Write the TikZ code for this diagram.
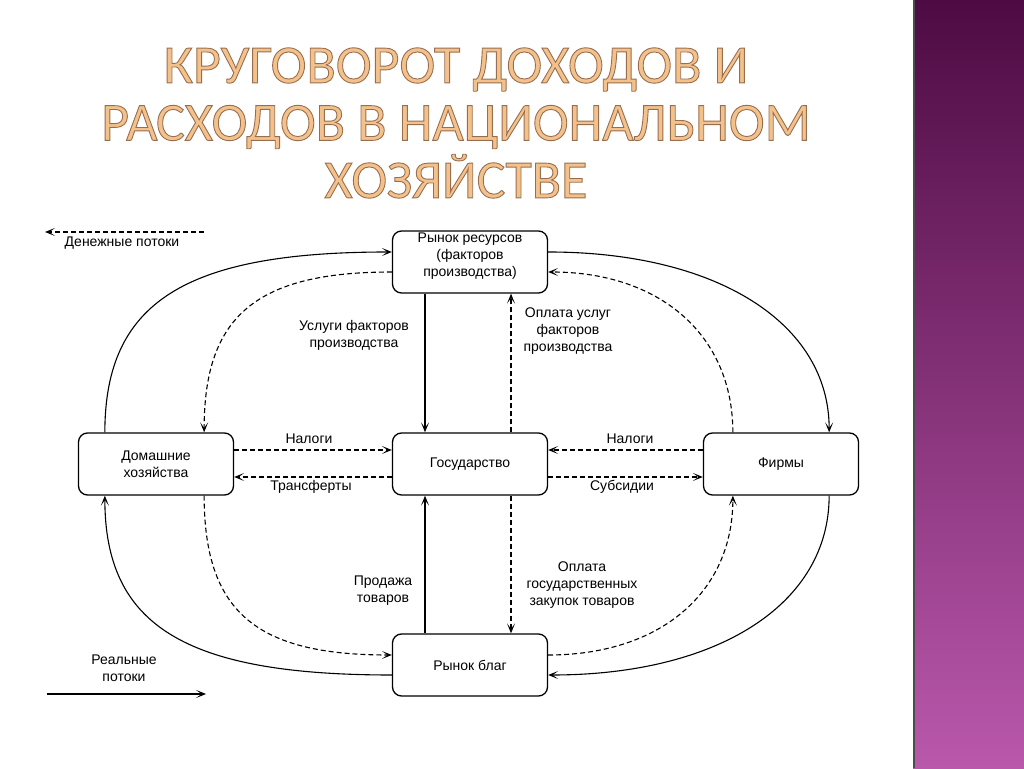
\documentclass[tikz,border=0pt]{standalone}
\usepackage{fontspec}
\setmainfont{Liberation Sans}
\newfontfamily\titlefont{Carlito}
\usetikzlibrary{arrows.meta}

\definecolor{titre}{HTML}{F3C28C}
\definecolor{violethaut}{HTML}{4E0B43}
\definecolor{violetbas}{HTML}{BA58AC}

\begin{document}
\begin{tikzpicture}[x=1pt,y=1pt,
    >={Stealth[length=10pt,width=8pt,inset=5.5pt]},
    bloc/.style={draw,line width=1.3pt,rounded corners=9pt,minimum width=155pt,minimum height=62pt,align=center,font=\fontsize{14}{17}\selectfont},
    etiq/.style={align=center,font=\fontsize{14}{17}\selectfont},
    reel/.style={->,line width=1.1pt},
    monnaie/.style={->,line width=1.1pt,dash pattern=on 5pt off 3pt}]
    \useasboundingbox (0,0) rectangle (1024,768);

    % Bande violette
    \shade[top color=violethaut,bottom color=violetbas] (913,0) rectangle (1024,768);
    \draw[line width=1.6pt,black!70] (913.8,0) -- (913.8,768);

    % Titre
    \node[align=center,font=\titlefont\fontsize{54}{57.5}\selectfont,text=titre] (titre) at (456,645)
        {\special{pdf:literal direct 2 Tr 0.9 w 0.6 0.43 0.31 RG}КРУГОВОРОТ ДОХОДОВ И\\РАСХОДОВ В НАЦИОНАЛЬНОМ\\ХОЗЯЙСТВЕ\special{pdf:literal direct 0 Tr}};

    % Blocs
    \node[bloc,inner ysep=0pt] (res) at (470,506) {Рынок ресурсов\\(факторов\\производства)\\[-3pt]\mbox{}};
    \node[bloc] (dom) at (156,304) {Домашние\\хозяйства};
    \node[bloc] (gos) at (470,304) {Государство};
    \node[bloc] (fir) at (781,304) {Фирмы};
    \node[bloc] (blag) at (470,103) {Рынок благ};

    % Arcs extérieurs (flux réels)
    \draw[reel] ([xshift=27pt]dom.north west) .. controls +(0,130) and +(-207,0) .. ([yshift=10pt]res.west);
    \draw[reel] ([yshift=10pt]res.east) .. controls +(169,0) and +(0,109) .. ([xshift=-30pt]fir.north east);
    \draw[reel] ([xshift=-30pt]fir.south east) .. controls +(0,-109) and +(169,0) .. ([yshift=-10pt]blag.east);
    \draw[reel] ([yshift=-10pt]blag.west) .. controls +(-207,0) and +(0,-130) .. ([xshift=27pt]dom.south west);

    % Arcs intérieurs (flux monétaires)
    \draw[monnaie] ([yshift=-10pt]res.west) .. controls +(-136,0) and +(0,116) .. ([xshift=-30pt]dom.north east);
    \draw[monnaie] ([xshift=30pt]fir.north west) .. controls +(0,97) and +(112,0) .. ([yshift=-10pt]res.east);
    \draw[monnaie] ([yshift=10pt]blag.east) .. controls +(112,0) and +(0,-97) .. ([xshift=30pt]fir.south west);
    \draw[monnaie] ([xshift=-30pt]dom.south east) .. controls +(0,-116) and +(-136,0) .. ([yshift=10pt]blag.west);

    % Flux verticaux
    \draw[reel] ([xshift=-45pt]res.south) -- ([xshift=-45pt]gos.north);
    \draw[monnaie] ([xshift=41pt]gos.north) -- ([xshift=41pt]res.south);
    \draw[reel] ([xshift=-45pt]blag.north) -- ([xshift=-45pt]gos.south);
    \draw[monnaie] ([xshift=41pt]gos.south) -- ([xshift=41pt]blag.north);

    % Flux horizontaux
    \draw[monnaie] ([yshift=14pt]dom.east) -- ([yshift=14pt]gos.west);
    \draw[monnaie] ([yshift=-13pt]gos.west) -- ([yshift=-13pt]dom.east);
    \draw[monnaie] ([yshift=14pt]fir.west) -- ([yshift=14pt]gos.east);
    \draw[monnaie] ([yshift=-13pt]gos.east) -- ([yshift=-13pt]fir.west);

    % Etiquettes
    \node[etiq] (nal1) at (309,329) {Налоги};
    \node[etiq] (trans) at (311,281) {Трансферты};
    \node[etiq] (nal2) at (630,329) {Налоги};
    \node[etiq] (subs) at (622,281) {Субсидии};
    \node[etiq] (usl) at (354,433) {Услуги факторов\\производства};
    \node[etiq] (opl) at (568,437) {Оплата услуг\\факторов\\производства};
    \node[etiq] (prod) at (383,177) {Продажа\\товаров};
    \node[etiq] (zak) at (582,183) {Оплата\\государственных\\закупок товаров};

    % Légende
    \coordinate (d1) at (204,536);
    \coordinate (d2) at (45,536);
    \draw[monnaie] (d1) -- (d2);
    \node[etiq] (den) at (122,525) {Денежные потоки};
    \node[etiq] (real) at (124,100) {Реальные\\потоки};
    \coordinate (r1) at (47,74);
    \coordinate (r2) at (206,74);
    \draw[reel] (r1) -- (r2);
\end{tikzpicture}
\end{document}
